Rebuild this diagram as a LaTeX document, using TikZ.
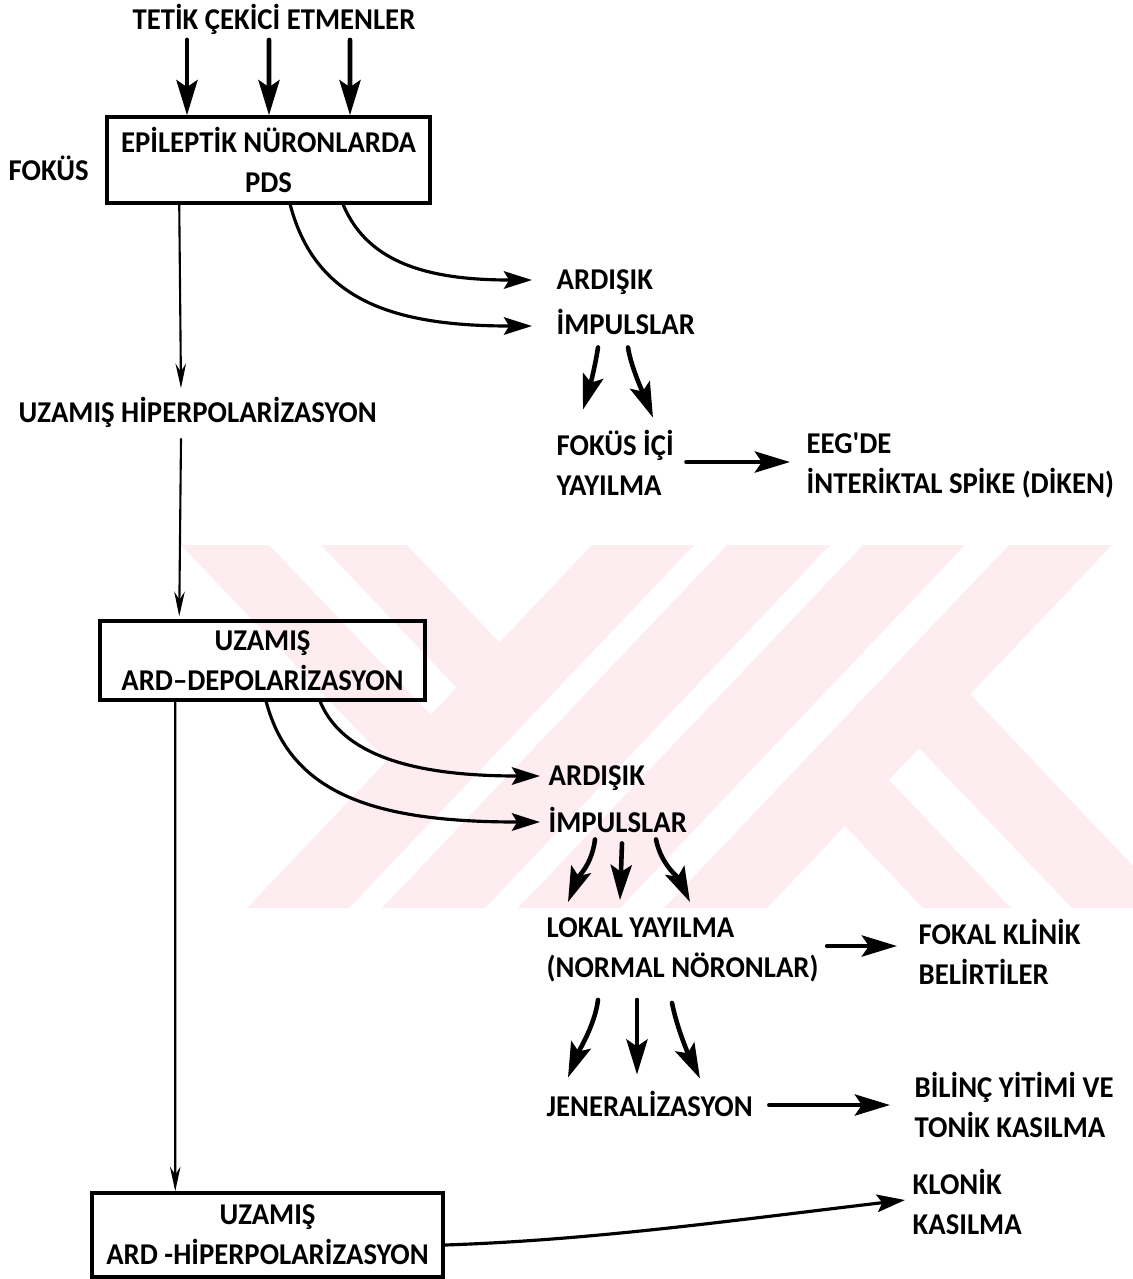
\documentclass[tikz,border=0pt]{standalone}
\usepackage{fontspec}
\usetikzlibrary{arrows.meta,calc}
\newfontfamily\yazifont[FakeStretch=0.95]{Carlito}
\newcommand{\etiket}{\yazifont\bfseries\fontsize{8.6}{11.4}\selectfont}
\definecolor{iz}{RGB}{253,236,240}

\begin{document}
\begin{tikzpicture}[x=0.1mm,y=-0.1mm,line cap=round]
	\tikzstyle{yazi}=[font=\etiket,inner sep=0pt,anchor=west,align=left];
	\tikzstyle{kutu}=[draw,line width=1pt,font=\etiket,align=center,inner sep=0pt];
	\tikzstyle{kalin}=[line width=1.3pt,-{Stealth[length=10pt,width=6pt,inset=2pt]}];
	\tikzstyle{ince}=[line width=0.6pt,-{Stealth[length=7pt,width=3pt]}];
	\tikzstyle{egri}=[line width=0.9pt,-{Stealth[length=8pt,width=5pt,inset=1.5pt]}];
	\tikzstyle{filigran}=[fill=iz,draw=none];
	\useasboundingbox (0,0) rectangle (1133,1279);

	% watermark
	\fill[filigran] (181,545) -- (269,545) -- (431,715) -- (387,761) -- cycle;
	\fill[filigran] (321,545) -- (407,545) -- (499,642) -- (457,688) -- cycle;
	\fill[filigran] (592,545) -- (694,545) -- (349,908) -- (247,908) -- cycle;
	\fill[filigran] (727,545) -- (830,545) -- (485,908) -- (382,908) -- cycle;
	\fill[filigran] (863,545) -- (965,545) -- (620,908) -- (518,908) -- cycle;
	\fill[filigran] (1009,545) -- (1112,545) -- (767,908) -- (664,908) -- cycle;
	\fill[filigran] (845,826) -- (889,780) -- (1011,908) -- (923,908) -- cycle;
	\fill[filigran] (919,748) -- (969,693) -- (1133,866) -- (1133,908) -- (1072,908) -- cycle;

	% nodes
	\node[font=\etiket,inner sep=0pt] (trig) at (274,19) {TETİK ÇEKİCİ ETMENLER};
	\node[kutu,minimum width=32.3mm,minimum height=8.6mm] (box1) at (268.5,160) {EPİLEPTİK NÜRONLARDA\\PDS};
	\node[yazi] (fokus) at (8,168) {FOKÜS};
	\node[yazi] (uzhip) at (18,412) {UZAMIŞ HİPERPOLARİZASYON};
	\node[kutu,minimum width=32.5mm,minimum height=7.9mm] (box2) at (262.5,660.5) {UZAMIŞ\\ARD–DEPOLARİZASYON};
	\node[kutu,minimum width=35.1mm,minimum height=8.4mm] (box3) at (267.5,1235) {UZAMIŞ\\ARD -HİPERPOLARİZASYON};

	\node[yazi] (ard1) at (556,282) {ARDIŞIK};
	\node[yazi] (imp1) at (556,322) {İMPULSLAR};
	\node[yazi] (fokici) at (556,463) {FOKÜS İÇİ\\YAYILMA};
	\node[yazi] (eeg) at (806,465) {EEG'DE\\İNTERİKTAL SPİKE (DİKEN)};

	\node[yazi] (ard2) at (548,778) {ARDIŞIK};
	\node[yazi] (imp2) at (548,820) {İMPULSLAR};
	\node[yazi] (lokal) at (546,950) {LOKAL YAYILMA\\(NORMAL NÖRONLAR)};
	\node[yazi] (fokal) at (918,952) {FOKAL KLİNİK\\BELİRTİLER};
	\node[yazi] (jen) at (546,1104) {JENERALİZASYON};
	\node[yazi] (bilinc) at (914,1105) {BİLİNÇ YİTİMİ VE\\TONİK KASILMA};
	\node[yazi] (klonik) at (912,1202) {KLONİK\\KASILMA};

	% connectors
	\draw[kalin] ($(trig.south)+(-87,5)$) -- ($(box1.north)+(-81.5,0)$);
	\draw[kalin] ($(trig.south)+(-5,5)$) -- ($(box1.north)+(0.5,0)$);
	\draw[kalin] ($(trig.south)+(76,5)$) -- ($(box1.north)+(81.5,0)$);

	\draw[ince] ($(box1.south west)+(74,0)$) -- ($(uzhip.north west)+(163,-8)$);
	\draw[ince] ($(uzhip.south west)+(163,11)$) -- ($(box2.north west)+(81,-3)$);
	\draw[ince] ($(box2.south west)+(77,0)$) -- ($(box3.north west)+(85,0)$);

	\draw[egri] ($(box1.south west)+(238,0)$) .. controls +(25,60) and +(-100,0) .. ($(ard1.west)+(-24,-2)$);
	\draw[egri] ($(box1.south west)+(185,0)$) .. controls +(25,95) and +(-140,0) .. ($(imp1.west)+(-24,4)$);
	\draw[kalin] ($(imp1.south west)+(42,12)$) .. controls +(-3,20) and +(6,-20) .. ($(fokici.north west)+(27,-20)$);
	\draw[kalin] ($(imp1.south west)+(72,12)$) .. controls +(3,20) and +(-8,-20) .. ($(fokici.north west)+(97,-12)$);
	\draw[kalin] ($(fokici.east)+(12,-1)$) -- ($(eeg.west)+(-16,-3)$);

	\draw[egri] ($(box2.south west)+(222,0)$) .. controls +(25,60) and +(-110,0) .. ($(ard2.west)+(-8,-2)$);
	\draw[egri] ($(box2.south west)+(168,0)$) .. controls +(25,95) and +(-160,0) .. ($(imp2.west)+(-8,2)$);
	\draw[kalin] ($(imp2.south west)+(47,6)$) .. controls +(-3,25) and +(10,-25) .. ($(lokal.north west)+(22,-15)$);
	\draw[kalin] ($(imp2.south west)+(74,10)$) -- ($(lokal.north west)+(74,-17)$);
	\draw[kalin] ($(imp2.south west)+(108,6)$) .. controls +(5,25) and +(-12,-25) .. ($(lokal.north west)+(144,-15)$);
	\draw[kalin] ($(lokal.east)+(8,-4)$) -- ($(fokal.west)+(-21,-6)$);

	\draw[kalin] ($(lokal.south west)+(52,17)$) .. controls +(-3,25) and +(10,-25) .. ($(jen.north west)+(22,-13)$);
	\draw[kalin] ($(lokal.south west)+(91,17)$) -- ($(jen.north west)+(91,-16)$);
	\draw[kalin] ($(lokal.south west)+(126,20)$) .. controls +(5,25) and +(-12,-25) .. ($(jen.north west)+(154,-12)$);
	\draw[kalin] ($(jen.east)+(16,1)$) -- ($(bilinc.west)+(-24,0)$);

	\draw[egri] ($(box3.east)+(0,10)$) .. controls +(150,-5) and +(-170,20) .. ($(klonik.west)+(-7,-2)$);
\end{tikzpicture}
\end{document}
